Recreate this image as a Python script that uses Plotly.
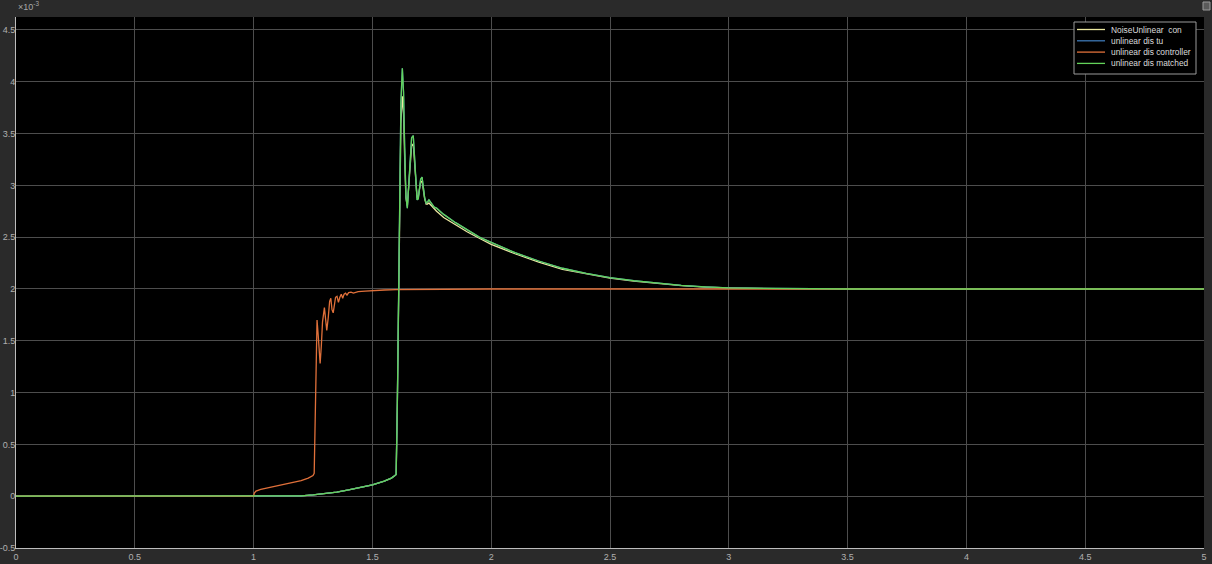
import plotly.graph_objects as go

# ---- data (values in units of 1e-3) ----
t_match = [0, 1.0, 1.1, 1.2, 1.25, 1.3, 1.35, 1.4, 1.45, 1.5, 1.55, 1.58, 1.595, 1.600,
           1.605, 1.61, 1.615, 1.62, 1.626, 1.631, 1.636, 1.641, 1.647, 1.652, 1.658, 1.665,
           1.672, 1.677, 1.683, 1.688, 1.693, 1.698, 1.703, 1.709, 1.714, 1.72, 1.726, 1.732,
           1.738, 1.745, 1.752, 1.76, 1.77, 1.78, 1.8, 1.85, 1.9, 1.95, 2.0, 2.1, 2.2, 2.3,
           2.4, 2.5, 2.6, 2.7, 2.8, 2.9, 3.0, 3.2, 3.5, 4.0, 5.0]
y_match = [0, 0, 0.0, 0.003, 0.012, 0.025, 0.04, 0.06, 0.085, 0.11, 0.145, 0.175, 0.2, 0.21,
           0.9, 2.0, 3.1, 3.8, 4.13, 3.9, 3.35, 2.9, 2.78, 2.95, 3.25, 3.46,
           3.48, 3.3, 3.0, 2.86, 2.87, 2.98, 3.06, 3.08, 2.98, 2.88, 2.83, 2.84,
           2.86, 2.84, 2.81, 2.79, 2.78, 2.76, 2.72, 2.64, 2.57, 2.50, 2.45, 2.35, 2.27, 2.20,
           2.15, 2.11, 2.08, 2.055, 2.035, 2.02, 2.01, 2.005, 2.0, 2.0, 2.0]

t_noise = t_match
y_noise = [0, 0, 0.0, 0.003, 0.012, 0.025, 0.04, 0.06, 0.085, 0.11, 0.145, 0.175, 0.2, 0.21,
           0.9, 2.0, 3.0, 3.6, 3.86, 3.7, 3.25, 2.88, 2.80, 2.95, 3.2, 3.38,
           3.40, 3.25, 3.0, 2.88, 2.89, 2.97, 3.03, 3.04, 2.96, 2.87, 2.82, 2.82,
           2.83, 2.81, 2.79, 2.77, 2.75, 2.73, 2.69, 2.62, 2.55, 2.49, 2.43, 2.34, 2.26, 2.19,
           2.145, 2.105, 2.075, 2.05, 2.032, 2.018, 2.01, 2.004, 2.0, 2.0, 2.0]

t_tu = t_match
y_tu = y_match

t_ctrl = [0, 1.0, 1.003, 1.01, 1.03, 1.06, 1.1, 1.15, 1.2, 1.23, 1.25, 1.255, 1.26, 1.263,
          1.267, 1.272, 1.276, 1.28, 1.285, 1.29, 1.298, 1.303, 1.308, 1.314, 1.32, 1.325,
          1.33, 1.335, 1.34, 1.345, 1.351, 1.357, 1.363, 1.369, 1.375, 1.381, 1.387, 1.393,
          1.40, 1.41, 1.42, 1.44, 1.47, 1.5, 1.55, 1.6, 1.7, 1.8, 2.0, 2.5, 5.0]
y_ctrl = [0, 0, 0.03, 0.05, 0.065, 0.08, 0.095, 0.12, 0.15, 0.175, 0.2, 0.22, 0.9, 1.45,
          1.70, 1.55, 1.35, 1.28, 1.45, 1.68, 1.82, 1.72, 1.60, 1.72, 1.88, 1.91,
          1.80, 1.77, 1.86, 1.92, 1.93, 1.87, 1.92, 1.95, 1.91, 1.95, 1.96, 1.94,
          1.965, 1.97, 1.96, 1.975, 1.98, 1.985, 1.99, 1.993, 1.996, 1.998, 2.0, 2.0, 2.0]

series_names = ["NoiseUnlinear  con", "unlinear dis tu", "unlinear dis controller", "unlinear dis matched"]
series_colors = ["#ece8a0", "#3d78b5", "#e0703a", "#63d35a"]

x_ticks = [0, 0.5, 1, 1.5, 2, 2.5, 3, 3.5, 4, 4.5, 5]
x_tick_labels = ["0", "0.5", "1", "1.5", "2", "2.5", "3", "3.5", "4", "4.5", "5"]
y_ticks = [-0.5, 0, 0.5, 1, 1.5, 2, 2.5, 3, 3.5, 4, 4.5]
y_tick_labels = ["-0.5", "0", "0.5", "1", "1.5", "2", "2.5", "3", "3.5", "4", "4.5"]

W, H = 1212, 564
ML, MR, MT, MB = 16, 8, 17, 16
PW, PH = W - ML - MR, H - MT - MB


def px(x):
    return (x - ML) / PW


def py(y):
    return (H - MB - y) / PH


fig = go.Figure()
for name, tx, ty, col in zip(series_names,
                             [t_noise, t_tu, t_ctrl, t_match],
                             [y_noise, y_tu, y_ctrl, y_match],
                             series_colors):
    fig.add_trace(go.Scatter(x=tx, y=ty, mode="lines", name=name,
                             line=dict(color=col, width=1.3), showlegend=False))

# legend box drawn in paper coordinates
shapes = [dict(type="rect", xref="paper", yref="paper",
               x0=px(1074), x1=px(1196), y0=py(74), y1=py(22),
               line=dict(color="#9a9a9a", width=1), fillcolor="#000000", layer="above"),
          dict(type="rect", xref="paper", yref="paper",
               x0=px(1203), x1=px(1210), y0=py(10), y1=py(2),
               line=dict(color="#9a9a9a", width=1), fillcolor="#5a5a5a")]
annotations = [dict(text="×10<sup>-3</sup>", xref="paper", yref="paper",
                    x=px(16), y=py(14), xanchor="left", yanchor="bottom",
                    showarrow=False, font=dict(size=9, color="#a8a8a8"))]
for i, (name, col) in enumerate(zip(series_names, series_colors)):
    yy = 29.5 + 11.3 * i
    shapes.append(dict(type="line", xref="paper", yref="paper",
                       x0=px(1077), x1=px(1105), y0=py(yy), y1=py(yy),
                       line=dict(color=col, width=1.3), layer="above"))
    annotations.append(dict(text=name, xref="paper", yref="paper",
                            x=px(1109), y=py(yy), xanchor="left", yanchor="middle",
                            showarrow=False,
                            font=dict(size=8.4, color="#dcdcdc")))

fig.update_layout(
    width=W, height=H,
    margin=dict(l=ML, r=MR, t=MT, b=MB),
    paper_bgcolor="#2a2a2a",
    plot_bgcolor="#000000",
    font=dict(family="Liberation Sans, Arial, sans-serif", size=9, color="#a8a8a8"),
    showlegend=False,
    xaxis=dict(range=[0, 5], tickvals=x_ticks, ticktext=x_tick_labels,
               showgrid=True, gridcolor="#4d4d4d", gridwidth=1,
               zeroline=False, showline=True, linecolor="#bdbdbd", linewidth=1,
               ticks="", automargin=False, tickfont=dict(size=9, color="#b0b0b0")),
    yaxis=dict(range=[-0.5, 4.625], tickvals=y_ticks, ticktext=y_tick_labels,
               showgrid=True, gridcolor="#4d4d4d", gridwidth=1,
               zeroline=False, showline=True, linecolor="#bdbdbd", linewidth=1,
               ticks="", automargin=False, ticklabelstandoff=-2,
               tickfont=dict(size=9, color="#b0b0b0")),
    annotations=annotations,
    shapes=shapes,
)

fig.write_html("out.html", config={"displayModeBar": False},
               post_script="document.body.style.margin='0px';document.body.style.overflow='hidden';")
